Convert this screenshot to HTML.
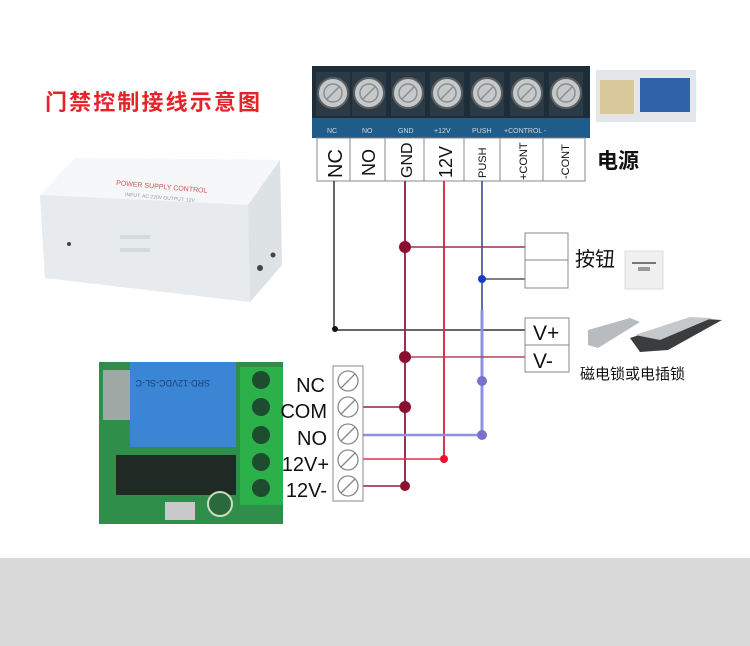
<!DOCTYPE html>
<html><head><meta charset="utf-8"><style>
html,body{margin:0;padding:0;background:#fff;}
svg{display:block;}
text{font-family:"Liberation Sans","Noto Sans CJK SC",sans-serif;}
</style></head><body>
<svg width="750" height="646" viewBox="0 0 750 646" xmlns="http://www.w3.org/2000/svg">
<rect width="750" height="646" fill="#fff"/>
<rect x="0" y="558" width="750" height="88" fill="#dadada"/>

<!-- title -->
<text x="45" y="110" font-size="22" font-weight="bold" fill="#e5232a" textLength="215">门禁控制接线示意图</text>

<!-- power supply box -->
<polygon points="40,195 75,158 280,160 282,265 250,302 45,278" fill="#eef1f3"/>
<polygon points="40,195 75,158 280,160 248,205" fill="#f5f7f8"/>
<polygon points="248,205 280,160 282,265 250,302" fill="#dde2e5"/>
<polygon points="40,195 248,205 250,302 45,278" fill="#e7ebed"/>
<text x="116" y="185" font-size="7" fill="#c55" transform="rotate(5 116 185)">POWER SUPPLY CONTROL</text>
<text x="125" y="196" font-size="5" fill="#999" transform="rotate(5 125 196)">INPUT: AC 220V  OUTPUT: 12V</text>
<circle cx="69" cy="244" r="2" fill="#444"/>
<circle cx="260" cy="268" r="3" fill="#444"/>
<circle cx="273" cy="255" r="2.5" fill="#444"/>
<rect x="120" y="235" width="30" height="4" fill="#d5dadd"/>
<rect x="120" y="248" width="30" height="4" fill="#d5dadd"/>

<!-- top terminal block -->
<rect x="312" y="66" width="278" height="72" fill="#1d2e3a"/>
<rect x="312" y="118" width="278" height="20" fill="#1f5c8a"/>
<g fill="#2b3a44">
<rect x="316" y="72" width="34" height="44"/><rect x="352" y="72" width="34" height="44"/><rect x="391" y="72" width="34" height="44"/>
<rect x="430" y="72" width="34" height="44"/><rect x="470" y="72" width="34" height="44"/><rect x="510" y="72" width="34" height="44"/><rect x="549" y="72" width="34" height="44"/>
</g>
<g fill="#c6c9ca" stroke="#5c6062" stroke-width="2">
<circle cx="333" cy="93" r="15"/><circle cx="369" cy="93" r="15"/><circle cx="408" cy="93" r="15"/>
<circle cx="447" cy="93" r="15"/><circle cx="487" cy="93" r="15"/><circle cx="527" cy="93" r="15"/><circle cx="566" cy="93" r="15"/>
</g>
<g fill="none" stroke="#8a8e90" stroke-width="1.5">
<circle cx="333" cy="93" r="9"/><circle cx="369" cy="93" r="9"/><circle cx="408" cy="93" r="9"/>
<circle cx="447" cy="93" r="9"/><circle cx="487" cy="93" r="9"/><circle cx="527" cy="93" r="9"/><circle cx="566" cy="93" r="9"/>
<line x1="327" y1="99" x2="339" y2="87"/><line x1="363" y1="99" x2="375" y2="87"/><line x1="402" y1="99" x2="414" y2="87"/>
<line x1="441" y1="99" x2="453" y2="87"/><line x1="481" y1="99" x2="493" y2="87"/><line x1="521" y1="99" x2="533" y2="87"/><line x1="560" y1="99" x2="572" y2="87"/>
</g>
<g fill="#cfd6da" font-size="7"><text x="327" y="133">NC</text><text x="362" y="133">NO</text><text x="398" y="133">GND</text><text x="434" y="133">+12V</text><text x="472" y="133">PUSH</text><text x="504" y="133">+CONTROL -</text></g>

<!-- label strip -->
<rect x="317" y="138" width="268" height="43" fill="#fff" stroke="#888" stroke-width="1"/>
<g stroke="#888"><line x1="350" y1="138" x2="350" y2="181"/><line x1="385" y1="138" x2="385" y2="181"/><line x1="424" y1="138" x2="424" y2="181"/><line x1="464" y1="138" x2="464" y2="181"/><line x1="500" y1="138" x2="500" y2="181"/><line x1="543" y1="138" x2="543" y2="181"/></g>
<g fill="#111">
<text transform="translate(342 178) rotate(-90)" font-size="20">NC</text>
<text transform="translate(375 176) rotate(-90)" font-size="18">NO</text>
<text transform="translate(412 178) rotate(-90)" font-size="16">GND</text>
<text transform="translate(452 178) rotate(-90)" font-size="18">12V</text>
<text transform="translate(486 178) rotate(-90)" font-size="11">PUSH</text>
<text transform="translate(527 180) rotate(-90)" font-size="11">+CONT</text>
<text transform="translate(569 179) rotate(-90)" font-size="11">-CONT</text>
</g>
<text x="597" y="168" font-size="21" font-weight="bold" fill="#111">电源</text>

<!-- power board photo -->
<rect x="596" y="70" width="100" height="52" fill="#e4e7ea"/>
<rect x="600" y="80" width="34" height="34" fill="#d8c89a"/>
<rect x="640" y="78" width="50" height="34" fill="#2e63a8"/>

<!-- wires -->
<polyline points="334,181 334,330 525,330" fill="none" stroke="#333" stroke-width="1.5"/>
<line x1="405" y1="181" x2="405" y2="487" stroke="#9b3050" stroke-width="2"/>
<line x1="444" y1="181" x2="444" y2="460" stroke="#d9344d" stroke-width="2"/>
<line x1="482" y1="181" x2="482" y2="310" stroke="#2c3f8f" stroke-width="1.5"/>
<line x1="482" y1="310" x2="482" y2="436" stroke="#8e90e0" stroke-width="3"/>
<line x1="405" y1="247" x2="525" y2="247" stroke="#9b3050" stroke-width="1.5"/>
<line x1="482" y1="279" x2="525" y2="279" stroke="#555" stroke-width="1.5"/>
<line x1="405" y1="357" x2="525" y2="357" stroke="#b8405e" stroke-width="1.5"/>
<line x1="360" y1="407" x2="405" y2="407" stroke="#8b2540" stroke-width="1.5"/>
<line x1="360" y1="435" x2="482" y2="435" stroke="#8e90e0" stroke-width="2.5"/>
<line x1="360" y1="459" x2="444" y2="459" stroke="#d9344d" stroke-width="1.5"/>
<line x1="360" y1="486" x2="405" y2="486" stroke="#8b2540" stroke-width="1.5"/>
<circle cx="335" cy="329" r="3" fill="#111"/>
<g fill="#8b1030"><circle cx="405" cy="247" r="6"/><circle cx="405" cy="357" r="6"/><circle cx="405" cy="407" r="6"/><circle cx="405" cy="486" r="5"/></g>
<circle cx="444" cy="459" r="4" fill="#f0102a"/>
<circle cx="482" cy="279" r="4" fill="#1a3cc0"/>
<circle cx="482" cy="381" r="5" fill="#7d6ecc"/>
<circle cx="482" cy="435" r="5" fill="#7d6ecc"/>

<!-- button box -->
<rect x="525" y="233" width="43" height="55" fill="#fff" stroke="#888"/>
<line x1="525" y1="260" x2="568" y2="260" stroke="#888"/>
<text x="575" y="266" font-size="20" fill="#111">按钮</text>
<rect x="625" y="251" width="38" height="38" fill="#f0f0f0" stroke="#ddd"/>
<rect x="632" y="262" width="24" height="2" fill="#777"/>
<rect x="638" y="267" width="12" height="4" fill="#999"/>

<!-- lock box -->
<rect x="525" y="318" width="44" height="54" fill="#fff" stroke="#888"/>
<line x1="525" y1="345" x2="569" y2="345" stroke="#888"/>
<text x="533" y="340" font-size="21" fill="#111">V+</text>
<text x="533" y="368" font-size="21" fill="#111">V-</text>
<polygon points="588,330 630,318 640,322 598,348 588,345" fill="#b9bcbe"/>
<polygon points="630,338 690,318 722,320 668,350 640,352" fill="#3a3c3e"/>
<polygon points="635,335 690,317 712,318 660,340" fill="#c5c8ca"/>
<text x="580" y="379" font-size="15" fill="#111">磁电锁或电插锁</text>

<!-- relay board -->
<rect x="99" y="362" width="184" height="162" fill="#2f8f4a"/>
<rect x="103" y="370" width="30" height="50" fill="#9fa8a4"/>
<rect x="116" y="455" width="120" height="40" fill="#1f2a25"/>
<rect x="130" y="362" width="106" height="85" fill="#3b86d4"/>
<rect x="240" y="367" width="43" height="138" fill="#2bb04a"/>
<g fill="#1d4d2e"><circle cx="261" cy="380" r="9"/><circle cx="261" cy="407" r="9"/><circle cx="261" cy="435" r="9"/><circle cx="261" cy="462" r="9"/><circle cx="261" cy="488" r="9"/></g>
<circle cx="220" cy="504" r="12" fill="#2a6a3a" stroke="#cfd8c0" stroke-width="2"/>
<rect x="165" y="502" width="30" height="18" fill="#c9c9c9"/>
<text x="150" y="400" font-size="9" fill="#16407a" transform="rotate(180 180 390)">SRD-12VDC-SL-C</text>

<!-- relay terminal block -->
<rect x="333" y="366" width="30" height="135" fill="#fff" stroke="#888"/>
<g fill="#fff" stroke="#888" stroke-width="1.3">
<circle cx="348" cy="381" r="10"/><circle cx="348" cy="407" r="10"/><circle cx="348" cy="434" r="10"/><circle cx="348" cy="460" r="10"/><circle cx="348" cy="486" r="10"/>
<line x1="341" y1="388" x2="355" y2="374"/><line x1="341" y1="414" x2="355" y2="400"/><line x1="341" y1="441" x2="355" y2="427"/><line x1="341" y1="467" x2="355" y2="453"/><line x1="341" y1="493" x2="355" y2="479"/>
</g>
<g font-size="20" fill="#111" text-anchor="end">
<text x="325" y="392">NC</text><text x="327" y="418">COM</text><text x="327" y="445">NO</text><text x="329" y="471">12V+</text><text x="327" y="497">12V-</text>
</g>
</svg>
</body></html>
